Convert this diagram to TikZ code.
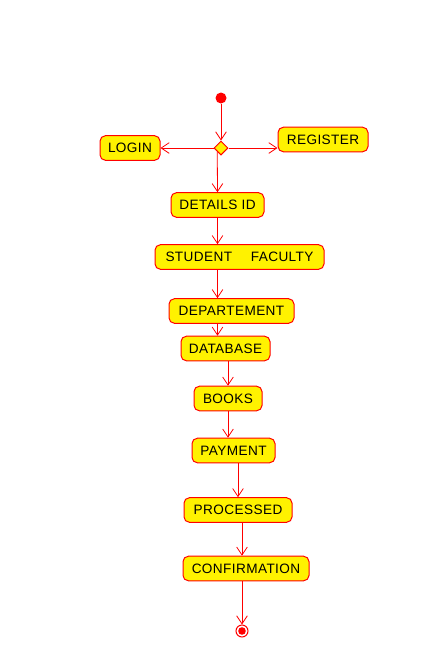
\documentclass[tikz,border=0pt]{standalone}
\usepackage{fontspec}
\setmainfont[LetterSpace=3]{Liberation Sans}
\usetikzlibrary{arrows.meta,shapes.geometric}

\begin{document}
\begin{tikzpicture}[x=0.75pt, y=-0.75pt,
	act/.style={draw=red, fill=yellow, rounded corners=4pt, line width=0.75pt,
		minimum height=18.4pt, inner sep=0pt, font=\fontsize{10.2pt}{12pt}\selectfont},
	boxw/.style={minimum width=#1*0.75pt},
	flow/.style={draw=red, line width=0.6pt, -{Straight Barb[length=6pt, width=8pt]}}]
	%page frame
	\useasboundingbox (0,0) rectangle (442,661);
	
	%start, decision and end
	\node[circle, fill=red, inner sep=0pt, minimum size=8.25pt] (start) at (221,98) {};
	\node[diamond, draw=red, fill=yellow, line width=0.75pt, inner sep=0pt, minimum size=10.5pt] (dec) at (221,148) {};
	\node[circle, draw=red, line width=0.75pt, inner sep=0pt, minimum size=9pt] (stop) at (242,631) {};
	\fill[red] (stop) circle (3.8*0.75pt);
	
	%activities
	\node[act, boxw=60] (login) at (130,148) {LOGIN};
	\node[act, boxw=90] (register) at (323,139.5) {REGISTER};
	\node[act, boxw=93] (details) at (217.5,205) {DETAILS ID};
	\node[act, boxw=169] (student) at (239.5,257) {STUDENT\hspace{14pt}FACULTY};
	\node[act, boxw=125] (departement) at (231.5,311) {DEPARTEMENT};
	\node[act, boxw=89] (database) at (225.5,348.5) {DATABASE};
	\node[act, boxw=68] (books) at (228,398.5) {BOOKS};
	\node[act, boxw=83] (payment) at (233.5,450.5) {PAYMENT};
	\node[act, boxw=108] (processed) at (238,510) {PROCESSED};
	\node[act, boxw=126] (confirmation) at (246,568.5) {CONFIRMATION};
	
	%flow
	\draw[flow] (start) -- (dec.north);
	\draw[flow] (dec.west) -- (login.east);
	\draw[flow] (dec.east) -- (dec.east -| register.west);
	\draw[flow] (dec.south west) -- (details.north);
	\draw[flow] (details.south) -- (details.south |- student.north);
	\draw[flow] (student.south -| details) -- (departement.north -| details);
	\draw[flow] (departement.south -| details) -- (database.north -| details);
	\draw[flow] (database.south -| books) -- (books.north);
	\draw[flow] (books.south) -- (books.south |- payment.north);
	\draw[flow] (payment.south -| processed) -- (processed.north);
	\draw[flow] (processed.south -| stop) -- (confirmation.north -| stop);
	\draw[flow] (confirmation.south -| stop) -- (stop.north);
\end{tikzpicture}
\end{document}
